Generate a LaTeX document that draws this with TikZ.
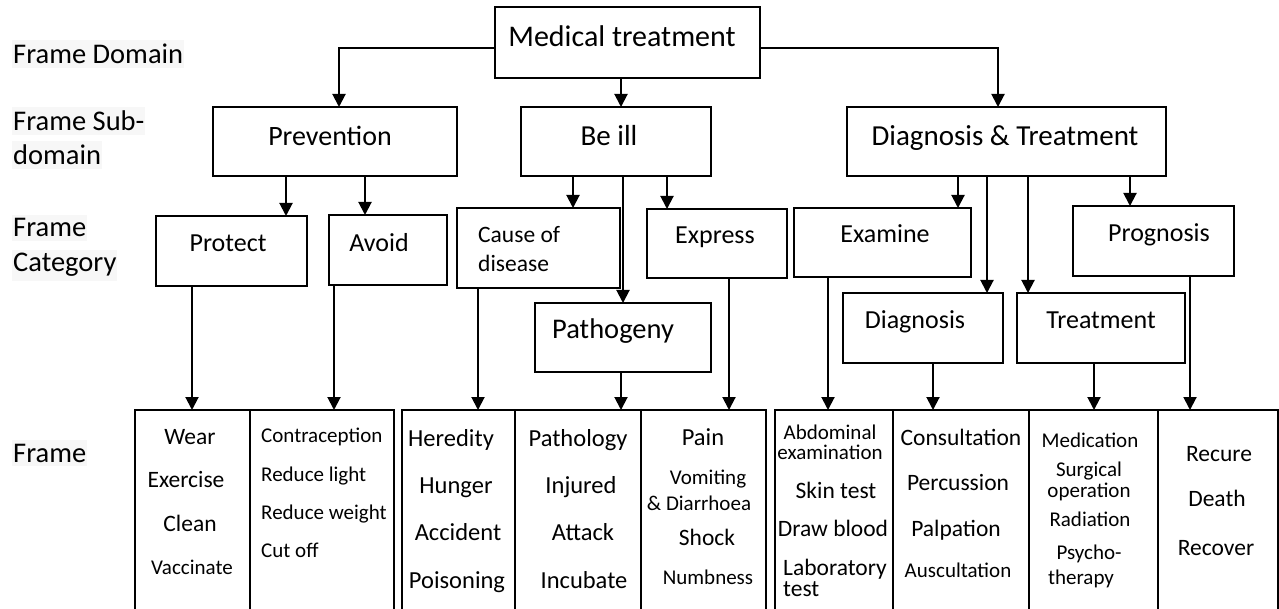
\documentclass[tikz,border=0pt]{standalone}
\usepackage{fontspec}
\setmainfont{Carlito}
\usetikzlibrary{arrows.meta}
\begin{document}
\begin{tikzpicture}[x=1pt,y=-1pt,
  box/.style={draw, line width=2pt, inner sep=0pt, outer sep=0pt},
  arr/.style={line width=2pt, -{Triangle[length=13pt,width=13pt]}},
  fbig/.style={font=\fontsize{29}{34}\selectfont, inner sep=0pt, anchor=base},
  fcat/.style={font=\fontsize{26}{31}\selectfont, inner sep=0pt, anchor=base},
  flrg/.style={font=\fontsize{24.5}{29}\selectfont, inner sep=0pt, anchor=base},
  fmed/.style={font=\fontsize{23.5}{28}\selectfont, inner sep=0pt, anchor=base},
  fsml/.style={font=\fontsize{21}{25}\selectfont, inner sep=0pt, anchor=base},
  lab/.style={font=\fontsize{28.5}{34}\selectfont, anchor=base west, fill=black!3, inner xsep=1pt, inner ysep=4pt},
]
\useasboundingbox (0,0) rectangle (1279,609);
\clip (0,0) rectangle (1279,609);

% level captions
\node[lab] (l1)  at (12,64)  {Frame Domain};
\node[lab] (l2a) at (12,131) {Frame Sub-};
\node[lab] (l2b) at (12,165) {domain};
\node[lab] (l3a) at (12,237) {Frame};
\node[lab] (l3b) at (12,272) {Category};
\node[lab] (l4)  at (12,462) {Frame};

% domain and sub-domains
\node[box, minimum width=265pt, minimum height=71pt] (med) at (627.5,42.5) {};
\node[fbig, font=\fontsize{30}{35}\selectfont] (medT) at (622,47) {Medical treatment};
\node[box, minimum width=244pt, minimum height=69pt] (prev) at (335,141.5) {};
\node[fbig, font=\fontsize{28}{33}\selectfont] (prevT) at (330,146) {Prevention};
\node[box, minimum width=190pt, minimum height=69pt] (beill) at (616,141.5) {};
\node[fbig] (beillT) at (609,146) {Be ill};
\node[box, minimum width=319pt, minimum height=69pt] (dt) at (1006.5,141.5) {};
\node[fbig] (dtT) at (1005,146) {Diagnosis \& Treatment};

% categories
\node[box, minimum width=151pt, minimum height=70pt] (protect) at (231.5,251) {};
\node[fcat] (protectT) at (228,252) {Protect};
\node[box, minimum width=118pt, minimum height=70pt] (avoid) at (388,250) {};
\node[fcat] (avoidT) at (379,252) {Avoid};
\node[box, minimum width=163pt, minimum height=80pt] (cause) at (538.5,248) {};
\node[fmed, anchor=base west] (causeT1) at (478,243) {Cause of};
\node[fmed, anchor=base west] (causeT2) at (478,272) {disease};
\node[box, minimum width=176pt, minimum height=69pt] (patho) at (623,337.5) {};
\node[fcat, anchor=base west, font=\fontsize{28.5}{33}\selectfont] (pathoT) at (552,338) {Pathogeny};
\node[box, minimum width=140pt, minimum height=69pt] (express) at (717,243.5) {};
\node[fcat] (expressT) at (715,244) {Express};
\node[box, minimum width=177pt, minimum height=69pt] (examine) at (882.5,242.5) {};
\node[fcat] (examineT) at (885,243) {Examine};
\node[box, minimum width=160pt, minimum height=70pt] (diag) at (923,328) {};
\node[fcat] (diagT) at (915,329) {Diagnosis};
\node[box, minimum width=168pt, minimum height=70pt] (treat) at (1101,328) {};
\node[fcat] (treatT) at (1101,329) {Treatment};
\node[box, minimum width=161pt, minimum height=70pt] (prog) at (1153.5,241) {};
\node[fcat] (progT) at (1159,242) {Prognosis};

% frame columns (open at the bottom edge)
\node[box, minimum width=115pt, minimum height=210pt] (c1) at (192.5,515) {};
\node[box, minimum width=144pt, minimum height=210pt] (c2) at (322,515) {};
\node[box, minimum width=113pt, minimum height=210pt] (c3) at (458.5,515) {};
\node[box, minimum width=126pt, minimum height=210pt] (c4) at (578,515) {};
\node[box, minimum width=125pt, minimum height=210pt] (c5) at (703.5,515) {};
\node[box, minimum width=118pt, minimum height=210pt] (c6) at (834,515) {};
\node[box, minimum width=136pt, minimum height=210pt] (c7) at (961,515) {};
\node[box, minimum width=129pt, minimum height=210pt] (c8) at (1093.5,515) {};
\node[box, minimum width=120pt, minimum height=210pt] (c9) at (1218,515) {};

% frame entries
\node[fmed] (w1) at (190,444) {Wear};
\node[fmed] (w2) at (186,487) {Exercise};
\node[fmed] (w3) at (190,531) {Clean};
\node[fsml] (w4) at (192,574) {Vaccinate};

\node[fsml, anchor=base west] (a1) at (261,442) {Contraception};
\node[fsml, anchor=base west] (a2) at (261,481) {Reduce light};
\node[fsml, anchor=base west] (a3) at (261,519) {Reduce weight};
\node[fsml, anchor=base west] (a4) at (261,557) {Cut off};

\node[flrg] (h1) at (451,446) {Heredity};
\node[flrg] (h2) at (456,493) {Hunger};
\node[flrg] (h3) at (458,540) {Accident};
\node[flrg] (h4) at (457,588) {Poisoning};

\node[flrg] (p1) at (578,446) {Pathology};
\node[flrg] (p2) at (581,493) {Injured};
\node[flrg] (p3) at (583,540) {Attack};
\node[flrg] (p4) at (584,588) {Incubate};

\node[flrg] (e1) at (703,445) {Pain};
\node[fsml] (e2) at (708,484) {Vomiting};
\node[fsml] (e3) at (699,510) {\& Diarrhoea};
\node[fmed] (e4) at (707,545) {Shock};
\node[fsml] (e5) at (708,584) {Numbness};

\node[fsml] (x1) at (830,439) {Abdominal};
\node[fsml] (x2) at (830,459) {examination};
\node[fmed] (x3) at (836,498) {Skin test};
\node[fmed] (x4) at (833,536) {Draw blood};
\node[fmed, anchor=base west] (x5) at (783,575) {Laboratory};
\node[fmed, anchor=base west] (x6) at (783,596) {test};

\node[fmed] (d1) at (961,445) {Consultation};
\node[fmed] (d2) at (958,490) {Percussion};
\node[fmed] (d3) at (956,536) {Palpation};
\node[fsml] (d4) at (958,577) {Auscultation};

\node[fsml] (t1) at (1090,447) {Medication};
\node[fsml] (t2) at (1089,476) {Surgical};
\node[fsml] (t3) at (1089,497) {operation};
\node[fsml] (t4) at (1090,526) {Radiation};
\node[fsml] (t5) at (1089,559) {Psycho-};
\node[fsml] (t6) at (1081,584) {therapy};

\node[fmed] (r1) at (1219,461) {Recure};
\node[fmed] (r2) at (1217,506) {Death};
\node[fmed] (r3) at (1216,555) {Recover};

% connector positions
\coordinate (yb) at (0,48);
\coordinate (xl) at (339,0);
\coordinate (xm) at (621,0);
\coordinate (xr) at (998,0);
\coordinate (xp1) at (286,0);
\coordinate (xp2) at (365,0);
\coordinate (xb1) at (573,0);
\coordinate (xb2) at (623,0);
\coordinate (xb3) at (667,0);
\coordinate (xd1) at (958,0);
\coordinate (xd2) at (987,0);
\coordinate (xd3) at (1028,0);
\coordinate (xd4) at (1130,0);
\coordinate (xf1) at (192,0);
\coordinate (xf2) at (334,0);
\coordinate (xf3) at (478,0);
\coordinate (xf4) at (621,0);
\coordinate (xf5) at (729,0);
\coordinate (xf6) at (828,0);
\coordinate (xf7) at (933,0);
\coordinate (xf8) at (1094,0);
\coordinate (xf9) at (1190,0);

% domain to sub-domains
\draw[arr] (med.west |- yb) -| (prev.north -| xl);
\draw[arr] (med.south -| xm) -- (beill.north -| xm);
\draw[arr] (med.east |- yb) -| (dt.north -| xr);

% sub-domains to categories
\draw[arr] (prev.south -| xp1) -- (protect.north -| xp1);
\draw[arr] (prev.south -| xp2) -- (avoid.north -| xp2);
\draw[arr] (beill.south -| xb1) -- (cause.north -| xb1);
\draw[arr] (beill.south -| xb2) -- (patho.north -| xb2);
\draw[arr] (beill.south -| xb3) -- (express.north -| xb3);
\draw[arr] (dt.south -| xd1) -- (examine.north -| xd1);
\draw[arr] (dt.south -| xd2) -- (diag.north -| xd2);
\draw[arr] (dt.south -| xd3) -- (treat.north -| xd3);
\draw[arr] (dt.south -| xd4) -- (prog.north -| xd4);

% categories to frames
\draw[arr] (protect.south -| xf1) -- (c1.north -| xf1);
\draw[arr] (avoid.south -| xf2) -- (c2.north -| xf2);
\draw[arr] (cause.south -| xf3) -- (c3.north -| xf3);
\draw[arr] (patho.south -| xf4) -- (c4.north -| xf4);
\draw[arr] (express.south -| xf5) -- (c5.north -| xf5);
\draw[arr] (examine.south -| xf6) -- (c6.north -| xf6);
\draw[arr] (diag.south -| xf7) -- (c7.north -| xf7);
\draw[arr] (treat.south -| xf8) -- (c8.north -| xf8);
\draw[arr] (prog.south -| xf9) -- (c9.north -| xf9);
\end{tikzpicture}
\end{document}
